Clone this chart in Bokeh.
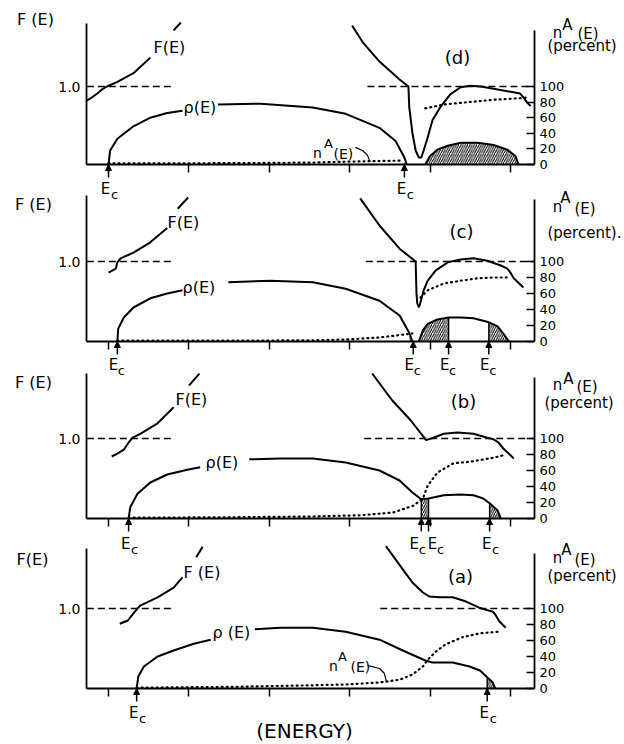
from bokeh.plotting import figure
from bokeh.models import Range1d, LinearAxis, FixedTicker, Label, Arrow, NormalHead
from bokeh.embed import file_html
from bokeh.resources import INLINE

FONT = "DejaVu Sans"
X_START, X_END = 0.726, 6.299          # left and right axis positions (energy units)
X_TICKS = [1, 2, 3, 4, 5, 6]
PCT_TICKS = [0, 20, 40, 60, 80, 100]
PCT_LABELS = ["0", "20", "40", "60", "80", "100"]
F_ONE = 100  # level of F(E) = 1.0 (same height as 100 percent)

# ---------------- panel (d) ----------------
D_F1_X = [0.73, 0.78, 0.86, 0.93, 0.98, 1.11, 1.31, 1.52]
D_F1_Y = [82, 85, 91, 97, 100, 106, 117, 137]
D_F2_X = [1.81, 1.90]
D_F2_Y = [172, 182]
D_RHO1_X = [1.0, 1.02, 1.11, 1.31, 1.52, 1.73, 1.92]
D_RHO1_Y = [0, 18, 33, 49, 60, 66, 69]
D_RHO2_X = [2.36, 2.89, 3.54, 3.95, 4.37, 4.57, 4.68, 4.71]
D_RHO2_Y = [77, 78, 73, 65, 47, 30, 9, 0]
D_NA1_X = [1.0, 2.0, 3.0, 3.54, 4.13, 4.65]
D_NA1_Y = [1.5, 1.5, 2, 2.5, 4, 5]
D_TOP_X = [4.03, 4.16, 4.37, 4.62, 4.73, 4.74, 4.78, 4.82, 4.86, 4.89, 4.92, 4.97,
           5.03, 5.13, 5.25, 5.38, 5.5, 5.63, 5.79, 5.96, 6.12, 6.16, 6.21, 6.25]
D_TOP_Y = [178, 157, 132, 109, 100, 74, 40, 18, 9, 9, 18, 35,
           57, 74, 90, 99, 101, 100, 97, 94, 91, 86, 79, 75]
D_NA2_X = [4.94, 5.17, 5.38, 5.79, 6.12, 6.21]
D_NA2_Y = [72, 77, 79, 83, 85, 86]
D_DOME_X = [4.94, 5.0, 5.09, 5.22, 5.38, 5.59, 5.79, 5.96, 6.06, 6.1]
D_DOME_Y = [0, 11, 19, 24, 28, 28, 25, 19, 11, 0]
D_EC = [1.0, 4.68]
D_LEADER_X = [4.07, 4.16, 4.22, 4.25]
D_LEADER_Y = [22, 18, 12, 4]

# ---------------- panel (c) ----------------
C_F1_X = [1.0, 1.09, 1.11, 1.15, 1.31, 1.52, 1.73]
C_F1_Y = [86, 91, 99, 104, 111, 124, 142]
C_F2_X = [1.86, 1.99]
C_F2_Y = [166, 180]
C_RHO1_X = [1.11, 1.12, 1.19, 1.31, 1.52, 1.73, 1.92]
C_RHO1_Y = [0, 16, 30, 42.5, 54, 60, 64]
C_RHO2_X = [2.49, 3.01, 3.54, 3.95, 4.37, 4.62, 4.74, 4.78]
C_RHO2_Y = [74, 76, 74, 66, 51, 32.5, 11, 0]
C_NA1_X = [1.11, 2.5, 3.54, 3.95, 4.37, 4.57, 4.78]
C_NA1_Y = [1, 1, 1.5, 2.5, 5, 7.5, 10]
C_TOP_X = [4.13, 4.37, 4.62, 4.82, 4.83, 4.84, 4.86, 4.88, 4.92, 4.97, 5.07, 5.22,
           5.38, 5.54, 5.71, 5.88, 5.96, 6.0, 6.04, 6.16]
C_TOP_Y = [179, 145, 116, 100, 61, 47.5, 42.5, 49, 64, 76, 89, 99,
           102.5, 104, 101, 95, 91, 86, 79, 67.5]
C_NA2_X = [4.88, 4.97, 5.17, 5.38, 5.59, 5.79, 5.96]
C_NA2_Y = [55, 64, 72.5, 76, 79, 80, 80]
C_DOME_X = [4.86, 4.91, 4.97, 5.09, 5.23, 5.38, 5.54, 5.73, 5.84, 5.91, 5.98]
C_DOME_Y = [0, 14, 22, 27.5, 30, 30, 29, 24, 19, 10, 0]
C_EC = [1.11, 4.79, 5.23, 5.73]

# ---------------- panel (b) ----------------
B_F1_X = [1.04, 1.11, 1.19, 1.25, 1.3, 1.4, 1.61, 1.81]
B_F1_Y = [77.5, 81, 86, 95, 101, 106, 119, 139]
B_F2_X = [2.0, 2.13]
B_F2_Y = [166, 181]
B_RHO1_X = [1.25, 1.27, 1.36, 1.52, 1.73, 1.98, 2.14]
B_RHO1_Y = [0, 14, 31, 45, 55, 61, 64]
B_RHO2_X = [2.75, 3.14, 3.54, 3.95, 4.37, 4.62, 4.78, 4.89, 4.98, 5.17, 5.38, 5.54,
            5.66, 5.74, 5.84, 5.88]
B_RHO2_Y = [74, 75, 75, 70, 60, 47.5, 32.5, 24, 25, 29, 30, 29,
            25, 19, 10, 0]
B_NA_X = [1.25, 2.5, 3.54, 4.13, 4.54, 4.79, 4.91, 4.97, 5.09, 5.29, 5.5, 5.79, 5.91]
B_NA_Y = [1, 1.5, 2.5, 4, 7.5, 16, 25, 41, 57.5, 69, 71, 76, 79]
B_TOP_X = [4.28, 4.53, 4.76, 4.95, 5.04, 5.17, 5.34, 5.54, 5.71, 5.79, 5.85, 5.91, 5.98, 6.04]
B_TOP_Y = [181, 147.5, 122.5, 98, 101, 106, 107.5, 106, 101, 99, 95, 87.5, 81, 75]
B_EC = [1.25, 4.89, 4.98, 5.74]

# ---------------- panel (a) ----------------
A_F1_X = [1.14, 1.24, 1.31, 1.36, 1.4, 1.61, 1.81, 1.92]
A_F1_Y = [81, 85, 94, 100, 104, 114, 126, 139]
A_F2_X = [2.09, 2.17]
A_F2_Y = [164, 177]
A_RHO1_X = [1.35, 1.37, 1.44, 1.61, 1.81, 2.06, 2.27]
A_RHO1_Y = [0, 15, 27.5, 40, 47.5, 56, 61]
A_RHO2_X = [2.82, 3.14, 3.54, 3.95, 4.37, 4.66, 4.94, 5.03, 5.28, 5.49, 5.62, 5.71, 5.78, 5.81]
A_RHO2_Y = [74, 76, 76, 71, 61, 47.5, 35, 32.5, 32.5, 27.5, 22.5, 14, 7.5, 0]
A_NA_X = [1.35, 2.5, 3.54, 3.95, 4.37, 4.62, 4.78, 4.91, 4.97, 5.07, 5.19, 5.4, 5.62, 5.86]
A_NA_Y = [1, 2, 4, 5, 7.5, 11, 17.5, 27.5, 36, 46, 55, 64, 69, 71]
A_TOP_X = [4.45, 4.5, 4.66, 4.78, 4.91, 4.99, 5.12, 5.28, 5.44, 5.61, 5.78, 5.81, 5.86, 5.94]
A_TOP_Y = [178, 171, 149, 132.5, 120, 115, 114, 114, 109, 101, 96, 92.5, 84, 76]
A_EC = [1.35, 5.71]
A_LEADER_X = [4.22, 4.37, 4.43, 4.46]
A_LEADER_Y = [29, 25, 19, 7.5]

# ---- layout (pixels)
CANVAS_W, CANVAS_H = 624, 742
X_PX_PER_UNIT = 80.4
AXIS_LEFT_PX = 86
# name: (baseline px from top, px per y unit, left axis top px, right axis top px)
PANELS = {"d": (164, 0.78, 23, 30),
          "c": (341, 0.80, 195, 199),
          "b": (518, 0.80, 373, 377),
          "a": (688, 0.80, 548, 553)}

x_lo = X_START - AXIS_LEFT_PX / X_PX_PER_UNIT
x_hi = x_lo + CANVAS_W / X_PX_PER_UNIT
p = figure(width=CANVAS_W, height=CANVAS_H, x_range=Range1d(x_lo, x_hi),
           y_range=Range1d(0, CANVAS_H), output_backend="svg",
           toolbar_location=None, min_border=0,
           x_axis_location=None, y_axis_location=None,
           outline_line_color=None, background_fill_color="white",
           border_fill_color="white")
p.grid.visible = False
p.extra_y_ranges = {n: Range1d((b - CANVAS_H) / s, b / s) for n, (b, s, _, _) in PANELS.items()}


def txt(rn, text, dx, dy, size, x=X_START, y=0, align="left"):
    corr = round(0.38 * size)  # bring alphabetic baseline to the intended pixel
    p.add_layout(Label(x=x, y=y, x_offset=dx, y_offset=dy + corr, text=text,
                       y_range_name=rn,
                       text_font=FONT, text_font_size=f"{size}px",
                       text_align=align, text_baseline="alphabetic",
                       text_color="black"))


def solid(rn, x, y, w=2.0):
    p.line(x, y, line_color="black", line_width=w, y_range_name=rn)


def dotted(rn, x, y):
    p.line(x, y, line_color="black", line_width=2.2, line_dash="1 4", line_cap="round",
           y_range_name=rn)


def dashed(rn, x0, x1):
    p.line([x0, x1], [F_ONE, F_ONE], line_color="black", line_width=1.3, line_dash="7 4",
           y_range_name=rn)


def hatch(rn, x, y):
    p.varea(x=x, y1=0, y2=y, fill_color=None, hatch_pattern="/",
            hatch_color="black", hatch_scale=4.5, hatch_weight=1, y_range_name=rn)


def vlines(rn, xs, ys):
    p.segment(x0=xs, y0=[0] * len(xs), x1=xs, y1=ys, line_color="black",
              line_width=1.4, y_range_name=rn)


def axes(rn):
    b, s, lt, rt = PANELS[rn]
    xa = LinearAxis(y_range_name=rn, fixed_location=0, bounds=(X_START, X_END),
                    ticker=FixedTicker(ticks=X_TICKS),
                    major_label_overrides={t: "" for t in X_TICKS})
    xa.major_label_standoff = 0
    xa.major_tick_out = 8
    xa.major_tick_in = 0
    xa.minor_tick_out = 0
    xa.minor_tick_in = 0
    xa.axis_line_width = 1.8
    xa.major_tick_line_width = 1.5
    p.add_layout(xa, "below")
    ya = LinearAxis(y_range_name=rn, fixed_location=X_START, bounds=(0, (b - lt) / s),
                    ticker=FixedTicker(ticks=[F_ONE]),
                    major_label_overrides={F_ONE: "1.0"})
    ya.major_tick_out = 0
    ya.major_tick_in = 0
    ya.minor_tick_out = 0
    ya.minor_tick_in = 0
    ya.major_label_standoff = 6
    ya.axis_line_width = 1.8
    ya.major_label_text_font = FONT
    ya.major_label_text_font_size = "14px"
    ya.major_label_text_color = "black"
    p.add_layout(ya, "left")
    ra = LinearAxis(y_range_name=rn, fixed_location=X_END, bounds=(0, (b - rt) / s),
                    ticker=FixedTicker(ticks=PCT_TICKS),
                    major_label_overrides={t: l for t, l in zip(PCT_TICKS, PCT_LABELS)})
    ra.major_tick_in = 8
    ra.major_tick_out = 0
    ra.minor_tick_in = 0
    ra.minor_tick_out = 0
    ra.major_label_standoff = 5
    ra.axis_line_width = 1.8
    ra.major_tick_line_width = 1.5
    ra.major_label_text_font = FONT
    ra.major_label_text_font_size = "13px"
    ra.major_label_text_color = "black"
    p.add_layout(ra, "right")


def ec_marks(rn, xs, eb=30, offs=None):
    s = PANELS[rn][1]
    for i, xe in enumerate(xs):
        p.add_layout(Arrow(end=NormalHead(size=6, fill_color="black", line_color="black"),
                           x_start=xe, y_start=-13 / s, x_end=xe, y_end=0,
                           y_range_name=rn, line_color="black", line_width=1.5))
        de, dc = (-3, 6) if offs is None else offs[i]
        txt(rn, "E", de, -eb, 15, x=xe, align="center")
        txt(rn, "c", dc, -eb - 5, 13, x=xe, align="center")


def right_labels(rn, n, a, e, pc, pc_text="(percent)"):
    txt(rn, "n", n[0], n[1], 15, align="center")
    txt(rn, "A", a[0], a[1], 15, align="center")
    txt(rn, "(E)", e[0], e[1], 15)
    txt(rn, pc_text, pc[0], pc[1], 15)


# ---- panel d
axes("d")
dashed("d", 0.73, 1.82)
dashed("d", 4.22, 6.3)
solid("d", D_F1_X, D_F1_Y)
solid("d", D_F2_X, D_F2_Y)
solid("d", D_RHO1_X, D_RHO1_Y)
solid("d", D_RHO2_X, D_RHO2_Y)
hatch("d", D_RHO2_X[-2:], D_RHO2_Y[-2:])
dotted("d", D_NA1_X, D_NA1_Y)
solid("d", D_TOP_X, D_TOP_Y)
dotted("d", D_NA2_X, D_NA2_Y)
hatch("d", D_DOME_X, D_DOME_Y)
solid("d", D_DOME_X, D_DOME_Y)
solid("d", D_LEADER_X, D_LEADER_Y, w=1.2)
ec_marks("d", D_EC)
txt("d", "F (E)", -51, 139, 16, align="center")
txt("d", "F(E)", 67, 111, 16)
txt("d", "ρ(E)", 97, 51, 16)
txt("d", "n", 231, 7, 14, align="center")
txt("d", "A", 242, 16, 13, align="center")
txt("d", "(E)", 247, 6, 14)
txt("d", "(d)", 371, 100, 18, align="center")
right_labels("d", (471, 126), (481, 134), (491, 125), (461, 113))

# ---- panel c
axes("c")
dashed("c", 0.73, 1.8)
dashed("c", 4.2, 6.3)
solid("c", C_F1_X, C_F1_Y)
solid("c", C_F2_X, C_F2_Y)
solid("c", C_RHO1_X, C_RHO1_Y)
solid("c", C_RHO2_X, C_RHO2_Y)
hatch("c", C_RHO2_X[-2:], C_RHO2_Y[-2:])
dotted("c", C_NA1_X, C_NA1_Y)
solid("c", C_TOP_X, C_TOP_Y)
dotted("c", C_NA2_X, C_NA2_Y)
hatch("c", C_DOME_X[:5], C_DOME_Y[:5])
hatch("c", C_DOME_X[7:], C_DOME_Y[7:])
solid("c", C_DOME_X, C_DOME_Y)
vlines("c", [C_DOME_X[4], C_DOME_X[7]], [C_DOME_Y[4], C_DOME_Y[7]])
ec_marks("c", C_EC, eb=29, offs=[(-4, 4)] * 4)
txt("c", "F (E)", -53, 131, 16, align="center")
txt("c", "F(E)", 81, 113, 16)
txt("c", "ρ(E)", 96, 48, 16)
txt("c", "(c)", 375, 103, 18, align="center")
right_labels("c", (471, 129), (479, 138), (488, 127), (461, 103), "(percent).")

# ---- panel b
axes("b")
dashed("b", 0.73, 1.8)
dashed("b", 4.18, 6.3)
solid("b", B_F1_X, B_F1_Y)
solid("b", B_F2_X, B_F2_Y)
solid("b", B_RHO1_X, B_RHO1_Y)
solid("b", B_RHO2_X, B_RHO2_Y)
hatch("b", B_RHO2_X[7:9], B_RHO2_Y[7:9])
hatch("b", B_RHO2_X[13:], B_RHO2_Y[13:])
vlines("b", [B_RHO2_X[7], B_RHO2_X[8], B_RHO2_X[13]], [B_RHO2_Y[7], B_RHO2_Y[8], B_RHO2_Y[13]])
dotted("b", B_NA_X, B_NA_Y)
solid("b", B_TOP_X, B_TOP_Y)
ec_marks("b", B_EC, eb=31, offs=[(-3, 6), (-7, 1), (4, 12), (-3, 6)])
txt("b", "F (E)", -53, 130, 16, align="center")
txt("b", "F(E)", 89, 113, 16)
txt("b", "ρ(E)", 119, 50, 16)
txt("b", "(b)", 377, 110, 18, align="center")
right_labels("b", (471, 128), (482, 134), (490, 126), (458, 110))

# ---- panel a
axes("a")
dashed("a", 0.73, 1.8)
dashed("a", 4.38, 6.3)
solid("a", A_F1_X, A_F1_Y)
solid("a", A_F2_X, A_F2_Y)
solid("a", A_RHO1_X, A_RHO1_Y)
solid("a", A_RHO2_X, A_RHO2_Y)
hatch("a", A_RHO2_X[11:], A_RHO2_Y[11:])
vlines("a", [A_RHO2_X[11]], [A_RHO2_Y[11]])
dotted("a", A_NA_X, A_NA_Y)
solid("a", A_TOP_X, A_TOP_Y)
solid("a", A_LEADER_X, A_LEADER_Y, w=1.2)
ec_marks("a", A_EC)
txt("a", "F(E)", -54, 123, 16, align="center")
txt("a", "F (E)", 97, 110, 16)
txt("a", "ρ (E)", 126, 50, 16)
txt("a", "n", 247, 18, 14, align="center")
txt("a", "A", 256, 27, 13, align="center")
txt("a", "(E)", 264, 17, 14)
txt("a", "(a)", 374, 105, 18, align="center")
right_labels("a", (471, 125), (480, 133), (488, 123), (461, 107))
txt("a", "(ENERGY)", 218, -50, 20, align="center")

open("out.html", "w").write(file_html(p, INLINE))
